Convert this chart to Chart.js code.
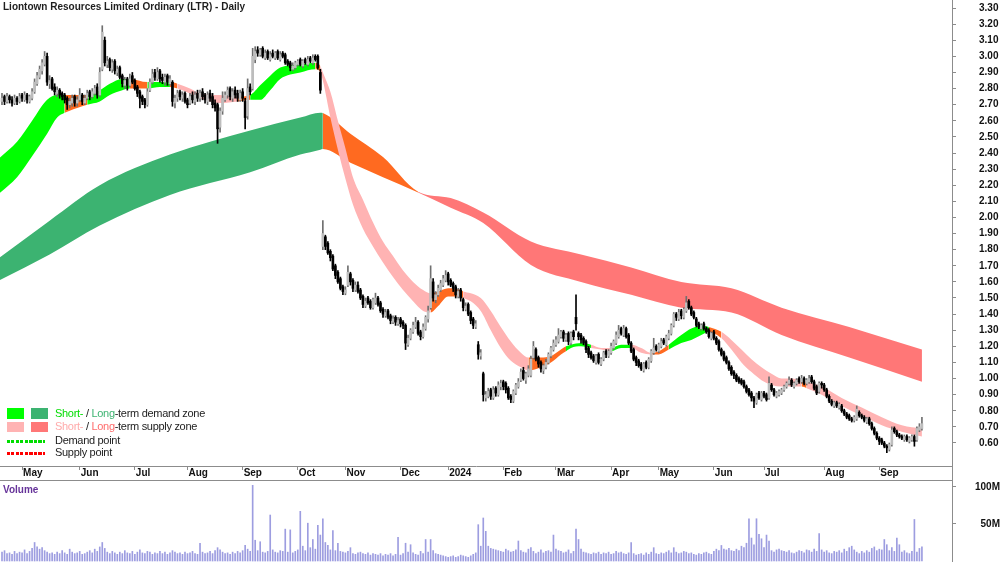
<!DOCTYPE html>
<html><head><meta charset="utf-8">
<script src="https://cdn.jsdelivr.net/npm/chart.js@4.4.1/dist/chart.umd.min.js"></script>
<style>
html,body{margin:0;padding:0;background:#fff;}
body{width:1000px;height:562px;overflow:hidden;position:relative;font-family:'Liberation Sans',Arial,Helvetica,sans-serif;}
canvas{position:absolute;left:0;}
.ov{position:absolute;white-space:nowrap;z-index:5;}
#title{left:3px;top:1px;font-size:10px;font-weight:bold;color:#1e1e1e;line-height:12px;}
.sq{position:absolute;width:17px;z-index:5;}
.lt{position:absolute;left:55px;font-size:11px;letter-spacing:-0.3px;color:#222;line-height:13px;z-index:5;white-space:nowrap;}
.dots{position:absolute;left:7px;width:38px;height:3px;z-index:5;}
#vol{left:3px;top:484px;font-size:10px;font-weight:bold;color:#663399;line-height:12px;}
.ln{position:absolute;background:#8c8c8c;z-index:6;}
</style>
</head><body>
<canvas id="pc" width="1000" height="480" style="top:0"></canvas>
<canvas id="vc" width="1000" height="82" style="top:480px"></canvas>
<div class="ln" style="left:952px;top:0;width:1px;height:562px"></div>
<div class="ln" style="left:0;top:480px;width:953px;height:1px"></div>
<div id="title" class="ov">Liontown Resources Limited Ordinary (LTR) - Daily</div>
<div class="sq" style="left:7px;top:408px;height:11px;background:#00ff00"></div>
<div class="sq" style="left:31px;top:408px;height:11px;background:#3cb371"></div>
<div class="sq" style="left:7px;top:422px;height:10px;background:#ffb3b3"></div>
<div class="sq" style="left:31px;top:422px;height:10px;background:#ff7777"></div>
<div class="dots" style="top:440px;background:repeating-linear-gradient(90deg,#00dd00 0 3px,transparent 3px 4.5px)"></div>
<div class="dots" style="top:452px;background:repeating-linear-gradient(90deg,#ff0000 0 3px,transparent 3px 4.5px)"></div>
<div class="lt" style="top:407px"><span style="color:#00dd00">Short-</span> / <span style="color:#3cb371">Long</span>-term demand zone</div>
<div class="lt" style="top:420px"><span style="color:#ffaaaa">Short-</span> / <span style="color:#ff6b6b">Long</span>-term supply zone</div>
<div class="lt" style="top:434px">Demand point</div>
<div class="lt" style="top:446px">Supply point</div>
<div id="vol" class="ov">Volume</div>
<script>
// ---- axis labels ----
const monthLabels = ['May','Jun','Jul','Aug','Sep','Oct','Nov','Dec','2024','Feb','Mar','Apr','May','Jun','Jul','Aug','Sep'];
const monthTickIdx = [8,31,53,74,96,118,137,159,178,200,221,243,262,284,304,328,350];
const priceTicks = [0.6,0.7,0.8,0.9,1.0,1.1,1.2,1.3,1.4,1.5,1.6,1.7,1.8,1.9,2.0,2.1,2.2,2.3,2.4,2.5,2.6,2.7,2.8,2.9,3.0,3.1,3.2,3.3];
const volumeTicks = [50,100];

// ---- daily candles (trading-day index 0..367) ----
const open = [
2.72,2.75,2.72,2.75,2.73,2.71,2.74,2.72,
2.76,2.73,2.76,2.72,2.74,2.78,2.83,
2.87,2.91,2.95,3.00,2.83,2.86,2.81,2.77,2.79,
2.77,2.76,2.74,2.70,2.71,2.75,2.71,2.73,2.76,2.71,2.74,2.78,
2.75,2.77,2.81,2.76,2.92,3.10,2.95,2.98,2.92,2.97,
2.90,2.93,2.88,2.82,2.86,2.82,2.88,2.85,2.81,2.78,
2.75,2.73,2.70,2.79,2.84,2.90,2.86,2.91,
2.87,2.84,2.88,2.83,2.84,2.71,2.74,2.78,2.74,2.77,2.73,
2.71,2.76,2.72,2.77,2.74,2.78,2.76,2.72,2.77,2.75,2.71,
2.70,2.56,2.66,2.73,2.76,2.80,2.74,2.79,2.77,
2.73,2.78,2.72,2.63,2.81,2.80,2.98,
3.04,3.01,3.05,2.99,3.03,2.98,3.02,2.99,3.03,2.98,3.02,3.01,2.97,2.96,
2.92,2.93,2.95,2.98,2.94,2.98,2.95,2.99,2.96,3.00,3.00,2.90,
1.82,1.88,1.84,1.79,1.76,1.70,1.66,1.62,1.57,1.53,
1.58,1.65,1.61,1.55,1.58,1.55,1.51,1.45,1.50,1.48,1.44,1.47,
1.50,1.47,1.43,1.39,1.42,1.39,1.35,1.38,1.34,1.37,
1.35,1.33,1.21,1.25,1.29,1.32,1.35,1.29,1.26,1.31,1.37,
1.44,1.60,1.49,1.52,1.55,1.58,1.61,1.65,
1.61,1.59,1.57,1.51,1.55,1.49,1.43,1.46,1.41,1.37,1.32,
1.21,1.14,1.03,0.88,0.89,0.93,0.88,0.94,0.90,0.95,0.98,
0.97,0.94,0.89,0.86,0.91,0.95,0.99,1.05,0.99,1.02,1.02,1.13,
1.18,1.13,1.10,1.05,1.07,1.10,1.14,1.18,1.21,
1.23,1.26,1.29,1.24,1.28,1.22,1.29,1.38,1.28,1.27,
1.25,1.23,1.19,1.16,1.14,1.10,1.15,1.09,1.12,1.17,
1.14,1.16,1.19,1.22,1.26,1.31,1.27,1.31,1.27,1.22,1.18,1.13,
1.11,1.09,1.05,1.10,1.07,1.11,1.16,1.20,
1.17,1.20,1.24,1.21,1.25,1.28,1.33,1.40,1.37,1.42,1.38,1.42,1.48,
1.44,1.41,1.37,1.34,1.31,1.34,1.31,1.30,1.25,1.29,
1.25,1.23,1.18,1.16,1.13,1.10,1.07,1.04,1.02,
1.00,0.99,0.98,0.95,0.93,0.91,0.88,0.85,0.91,0.87,
0.91,0.90,0.88,0.96,0.93,0.89,0.90,0.91,0.93,0.95,0.97,0.99,
0.95,0.97,1.00,0.98,1.00,0.97,0.98,1.01,0.98,0.95,0.92,
0.97,0.96,0.93,0.89,0.86,0.83,0.85,0.82,0.83,0.80,0.78,0.77,
0.75,0.74,0.75,0.79,0.77,0.76,0.73,0.75,0.72,0.69,
0.66,0.63,0.62,0.60,0.58,0.56,0.59,0.69,0.67,
0.65,0.64,0.62,0.64,0.61,0.62,0.64,0.62,0.68,0.69
];
const high = [
2.77,2.76,2.77,2.76,2.75,2.76,2.75,2.77,
2.77,2.78,2.77,2.76,2.80,2.86,2.90,
2.94,2.98,3.03,3.02,2.88,2.87,2.83,2.81,2.80,
2.78,2.77,2.75,2.74,2.76,2.76,2.75,2.80,2.77,2.76,2.79,2.79,
2.80,2.82,2.83,2.93,3.19,3.12,3.00,2.99,2.98,2.98,
2.94,2.94,2.89,2.87,2.87,2.89,2.90,2.86,2.82,2.79,
2.76,2.74,2.80,2.86,2.92,2.92,2.93,2.92,
2.89,2.89,2.89,2.88,2.85,2.76,2.79,2.79,2.78,2.78,2.74,
2.77,2.78,2.78,2.79,2.79,2.80,2.77,2.78,2.79,2.77,2.73,
2.71,2.68,2.78,2.78,2.81,2.81,2.80,2.81,2.79,
2.79,2.80,2.74,2.86,2.83,3.05,3.06,
3.06,3.05,3.06,3.04,3.04,3.03,3.04,3.03,3.04,3.03,3.03,3.02,2.98,2.97,
2.96,2.97,2.98,2.99,2.98,2.99,3.00,3.00,3.01,3.01,3.01,2.92,
1.98,1.89,1.85,1.80,1.77,1.71,1.67,1.63,1.58,1.57,
1.70,1.66,1.62,1.60,1.60,1.56,1.52,1.50,1.51,1.49,1.50,1.53,
1.51,1.48,1.44,1.43,1.43,1.40,1.39,1.39,1.38,1.38,
1.36,1.34,1.27,1.31,1.35,1.38,1.36,1.30,1.34,1.39,1.45,
1.70,1.62,1.54,1.58,1.61,1.64,1.67,1.66,
1.62,1.60,1.58,1.56,1.56,1.50,1.47,1.47,1.42,1.38,1.36,
1.23,1.18,1.04,0.92,0.94,0.94,0.95,0.95,0.98,0.99,0.99,
0.98,0.95,0.90,0.93,0.97,1.00,1.06,1.07,1.04,1.08,1.14,1.23,
1.19,1.14,1.11,1.09,1.12,1.16,1.20,1.24,1.26,
1.31,1.30,1.30,1.28,1.29,1.29,1.30,1.52,1.29,1.28,
1.26,1.24,1.20,1.17,1.15,1.15,1.16,1.13,1.17,1.18,
1.18,1.22,1.24,1.29,1.33,1.32,1.33,1.32,1.28,1.23,1.19,1.14,
1.12,1.10,1.10,1.11,1.13,1.18,1.25,1.21,
1.22,1.25,1.25,1.27,1.30,1.34,1.41,1.41,1.43,1.43,1.44,1.51,1.49,
1.45,1.42,1.38,1.35,1.34,1.35,1.32,1.31,1.29,1.30,
1.26,1.24,1.19,1.17,1.14,1.11,1.08,1.05,1.03,
1.01,1.00,0.99,0.96,0.94,0.92,0.89,0.91,0.92,0.92,
0.92,0.91,1.01,0.97,0.94,0.92,0.93,0.94,0.96,0.98,1.01,1.00,
0.98,1.00,1.01,1.02,1.01,1.00,1.02,1.02,0.99,0.96,0.98,
0.98,0.97,0.94,0.90,0.87,0.86,0.86,0.85,0.84,0.81,0.79,0.78,
0.76,0.77,0.83,0.80,0.78,0.77,0.76,0.76,0.73,0.70,
0.67,0.64,0.63,0.61,0.59,0.60,0.70,0.70,0.68,
0.66,0.65,0.65,0.65,0.64,0.65,0.65,0.70,0.72,0.76
];
const low = [
2.70,2.70,2.71,2.71,2.69,2.70,2.70,2.71,
2.72,2.72,2.71,2.71,2.73,2.77,2.82,
2.86,2.89,2.94,2.82,2.80,2.79,2.76,2.75,2.74,
2.73,2.71,2.67,2.68,2.69,2.69,2.69,2.72,2.70,2.70,2.73,2.73,
2.74,2.76,2.74,2.75,2.91,2.94,2.93,2.91,2.90,2.89,
2.88,2.86,2.81,2.80,2.79,2.81,2.83,2.79,2.75,2.68,
2.70,2.68,2.69,2.78,2.83,2.85,2.85,2.84,
2.83,2.82,2.82,2.82,2.69,2.68,2.72,2.73,2.72,2.71,2.68,
2.70,2.71,2.70,2.72,2.72,2.73,2.71,2.70,2.72,2.68,2.66,
2.46,2.53,2.64,2.72,2.74,2.73,2.72,2.74,2.72,
2.72,2.72,2.55,2.61,2.76,2.79,2.96,
3.00,3.00,2.99,2.98,2.98,2.97,2.99,2.98,2.98,2.97,2.99,2.95,2.94,2.91,
2.91,2.92,2.94,2.94,2.93,2.95,2.94,2.96,2.95,2.97,2.92,2.77,
1.80,1.80,1.77,1.73,1.67,1.62,1.59,1.55,1.52,1.52,
1.57,1.58,1.54,1.54,1.53,1.49,1.44,1.44,1.46,1.43,1.43,1.46,
1.45,1.41,1.38,1.38,1.37,1.34,1.34,1.33,1.33,1.32,
1.31,1.18,1.20,1.24,1.28,1.31,1.27,1.24,1.25,1.30,1.35,
1.43,1.48,1.47,1.51,1.54,1.57,1.60,1.58,
1.57,1.54,1.50,1.50,1.48,1.42,1.42,1.39,1.34,1.31,1.31,
1.12,1.12,0.86,0.86,0.88,0.87,0.87,0.89,0.89,0.93,0.93,
0.91,0.87,0.85,0.85,0.90,0.94,0.98,0.99,0.97,1.01,1.01,1.12,
1.11,1.07,1.04,1.03,1.06,1.09,1.13,1.17,1.20,
1.22,1.25,1.23,1.23,1.21,1.21,1.24,1.30,1.24,1.22,
1.21,1.16,1.13,1.12,1.10,1.09,1.09,1.08,1.11,1.13,
1.13,1.15,1.18,1.21,1.25,1.27,1.26,1.25,1.21,1.16,1.11,1.08,
1.07,1.05,1.04,1.06,1.06,1.10,1.15,1.17,
1.16,1.19,1.21,1.20,1.24,1.27,1.32,1.36,1.36,1.37,1.37,1.41,1.43,
1.39,1.37,1.32,1.31,1.30,1.30,1.28,1.25,1.24,1.24,
1.21,1.17,1.14,1.11,1.09,1.05,1.02,1.00,0.98,
0.97,0.96,0.94,0.91,0.89,0.86,0.82,0.84,0.87,0.86,
0.88,0.86,0.87,0.92,0.89,0.88,0.89,0.90,0.92,0.94,0.96,0.95,
0.94,0.96,0.97,0.97,0.96,0.96,0.97,0.97,0.93,0.90,0.91,
0.94,0.92,0.88,0.85,0.83,0.82,0.82,0.81,0.79,0.77,0.75,0.74,
0.73,0.73,0.74,0.76,0.75,0.73,0.72,0.71,0.68,0.65,
0.62,0.59,0.59,0.57,0.54,0.55,0.58,0.66,0.64,
0.63,0.62,0.61,0.61,0.60,0.61,0.58,0.61,0.67,0.68
];
const close = [
2.74,2.72,2.75,2.73,2.71,2.74,2.72,2.75,
2.74,2.76,2.73,2.75,2.78,2.84,2.88,
2.92,2.96,3.00,2.84,2.85,2.80,2.78,2.79,2.76,
2.75,2.73,2.70,2.72,2.74,2.71,2.73,2.76,2.72,2.74,2.77,2.75,
2.78,2.80,2.76,2.90,3.15,2.96,2.97,2.93,2.96,2.91,
2.92,2.87,2.83,2.85,2.82,2.86,2.84,2.80,2.77,2.74,
2.72,2.70,2.78,2.84,2.89,2.87,2.90,2.86,
2.85,2.87,2.84,2.86,2.72,2.74,2.77,2.75,2.76,2.72,2.70,
2.75,2.73,2.76,2.74,2.77,2.75,2.73,2.76,2.74,2.70,2.68,
2.55,2.66,2.74,2.76,2.79,2.75,2.78,2.76,2.74,
2.77,2.74,2.62,2.80,2.78,3.00,3.03,
3.02,3.04,3.00,3.02,2.99,3.01,3.00,3.02,2.99,3.01,3.00,2.96,2.95,2.93,
2.94,2.96,2.97,2.95,2.97,2.96,2.98,2.97,2.99,2.98,2.93,2.79,
1.90,1.82,1.78,1.75,1.68,1.64,1.60,1.56,1.54,1.55,
1.66,1.60,1.56,1.58,1.54,1.50,1.46,1.48,1.47,1.44,1.49,1.50,
1.46,1.42,1.40,1.41,1.38,1.36,1.37,1.35,1.36,1.34,
1.33,1.22,1.25,1.30,1.33,1.35,1.28,1.26,1.32,1.38,1.42,
1.62,1.50,1.52,1.56,1.59,1.62,1.64,1.60,
1.58,1.56,1.52,1.54,1.50,1.44,1.45,1.40,1.36,1.33,1.34,
1.15,1.16,0.90,0.90,0.92,0.89,0.93,0.91,0.96,0.97,0.95,
0.93,0.88,0.87,0.92,0.96,0.98,1.04,1.00,1.03,1.06,1.12,1.20,
1.12,1.09,1.06,1.08,1.10,1.15,1.19,1.22,1.24,
1.27,1.29,1.25,1.27,1.23,1.28,1.26,1.34,1.26,1.24,
1.22,1.18,1.15,1.13,1.11,1.14,1.10,1.12,1.16,1.15,
1.17,1.20,1.23,1.27,1.30,1.28,1.31,1.26,1.22,1.17,1.12,1.10,
1.08,1.06,1.09,1.07,1.12,1.17,1.19,1.18,
1.21,1.23,1.22,1.26,1.28,1.33,1.40,1.38,1.41,1.39,1.43,1.47,1.44,
1.40,1.38,1.33,1.32,1.33,1.31,1.29,1.26,1.28,1.25,
1.22,1.18,1.15,1.12,1.10,1.06,1.03,1.02,0.99,
0.98,0.97,0.95,0.92,0.90,0.88,0.86,0.90,0.88,0.91,
0.89,0.87,0.97,0.93,0.90,0.91,0.92,0.93,0.95,0.97,0.99,0.96,
0.97,0.99,0.98,1.00,0.97,0.99,1.00,0.98,0.94,0.91,0.97,
0.96,0.93,0.89,0.86,0.84,0.85,0.83,0.84,0.80,0.78,0.76,0.75,
0.74,0.76,0.81,0.77,0.76,0.74,0.75,0.72,0.69,0.66,
0.63,0.61,0.60,0.58,0.57,0.59,0.68,0.67,0.65,
0.64,0.63,0.64,0.62,0.63,0.64,0.61,0.69,0.70,0.72
];
// volume in millions of shares
const volume = [
12,14,10,11,9,13,10,12,
11,15,10,13,17,25,19,
16,18,14,12,10,11,9,12,10,
14,11,9,16,12,10,11,13,9,10,12,14,
11,16,13,19,25,17,12,10,13,11,
9,12,10,14,11,10,13,9,12,15,
11,10,13,12,9,11,10,13,
10,12,9,11,14,12,10,11,9,12,10,
11,13,10,9,24,12,10,11,13,10,14,
18,15,12,10,11,9,12,10,13,
11,14,21,16,13,102,28,
14,26,12,11,13,62,15,12,11,14,13,43,12,42,
11,13,15,67,20,14,51,18,29,16,48,35,
57,25,21,15,41,14,24,13,12,11,
13,18,10,9,11,12,10,9,11,8,10,9,
8,10,7,9,8,10,7,9,32,8,
10,24,12,22,11,9,8,13,10,29,12,
29,14,10,9,8,7,6,5,
6,7,5,6,8,7,6,5,7,9,11,
49,20,58,40,20,17,16,15,14,13,12,
16,14,12,13,15,27,14,12,11,16,18,13,
10,12,15,11,13,14,12,35,16,
14,13,11,12,15,10,13,43,29,16,
12,11,10,9,11,10,12,9,11,10,
12,9,10,13,11,12,10,9,11,25,10,8,
9,10,8,11,9,12,18,10,
9,11,10,12,14,11,18,12,10,11,13,12,10,
11,9,8,10,9,11,12,10,9,13,
16,14,21,16,15,17,14,13,16,
14,20,18,24,57,31,22,57,36,30,
18,35,27,14,12,15,16,14,13,12,14,11,
10,12,14,13,11,15,14,12,16,13,37,
15,12,14,11,10,13,12,14,11,16,13,18,
20,15,12,10,13,11,14,12,17,19,
14,16,15,29,22,14,18,13,31,
22,12,14,11,10,13,56,12,17,19
];

// ---- short-term zone band (sparse points on trading-day index) ----
const stIdx = [-1,6,12,18,22,25,30,34,39,43,48,51,58,63,67,70,75,79,87,94,99,103,107,111,119,125,127,128,131,134,137,140,144,148,152,156,160,164,168,171,174,178,183,184,187,191,195,199,203,207,210,215,219,223,225,227,231,235,239,243,247,251,255,259,262,266,271,275,279,282,287,291,295,299,303,307,311,315,319,321,327,335,343,351,359,367];
const stHi = [2.37,2.47,2.60,2.73,2.76,2.76,2.76,2.76,2.79,2.83,2.86,2.86,2.84,2.84,2.84,2.83,2.80,2.77,2.76,2.75,2.76,2.82,2.88,2.93,2.95,2.96,2.94,2.90,2.78,2.60,2.43,2.25,2.11,1.97,1.85,1.76,1.67,1.60,1.55,1.53,1.54,1.56,1.55,1.54,1.53,1.50,1.42,1.32,1.23,1.16,1.13,1.13,1.14,1.18,1.20,1.21,1.22,1.21,1.19,1.19,1.21,1.21,1.19,1.16,1.17,1.21,1.27,1.31,1.33,1.32,1.29,1.24,1.18,1.12,1.07,1.03,1.00,1.00,0.99,0.98,0.95,0.88,0.82,0.76,0.71,0.69];
const stLo = [2.15,2.25,2.38,2.52,2.62,2.65,2.68,2.70,2.72,2.76,2.79,2.80,2.80,2.81,2.81,2.80,2.77,2.74,2.71,2.72,2.73,2.73,2.79,2.86,2.90,2.92,2.90,2.85,2.62,2.42,2.24,2.08,1.93,1.82,1.72,1.63,1.55,1.48,1.42,1.41,1.45,1.51,1.51,1.50,1.48,1.42,1.30,1.19,1.11,1.07,1.05,1.07,1.10,1.15,1.17,1.19,1.20,1.19,1.18,1.17,1.19,1.19,1.16,1.15,1.15,1.18,1.22,1.24,1.27,1.29,1.25,1.18,1.10,1.04,0.99,0.96,0.95,0.95,0.95,0.94,0.90,0.83,0.77,0.71,0.67,0.64];
const stZone = ['sd','sd','sd','sd','sd','tr','tr','sd','sd','sd',
'sd','tr','sd','sd','tr','ss','ss','ss','ss','tr',
'sd','sd','sd','sd','sd','tr','ss','ss','ss','ss',
'ss','ss','ss','ss','ss','ss','ss','ss','ss','tr',
'tr','tr','tr','ss','ss','ss','ss','ss','ss','ss',
'tr','tr','tr','tr','sd','sd','sd','ss','ss','sd',
'sd','ss','ss','tr','tr','sd','sd','sd','sd','tr',
'ss','ss','ss','ss','ss','ss','ss','ss','tr','ss',
'ss','ss','ss','ss','ss','ss'];

// ---- long-term zone band ----
const ltIdx = [-1,19,39,67,99,119,127,128,139,152,166,179,192,211,231,251,271,291,311,338,367];
const ltHi = [1.75,1.98,2.20,2.39,2.54,2.62,2.65,2.648,2.52,2.375,2.16,2.12,2.03,1.85,1.77,1.69,1.60,1.56,1.44,1.32,1.18];
const ltLo = [1.61,1.77,1.95,2.14,2.28,2.39,2.42,2.425,2.34,2.25,2.155,2.06,1.965,1.705,1.60,1.52,1.44,1.41,1.27,1.13,0.98];
const ltZone = ['ld','ld','ld','ld','ld','ld','ld','tr','tr','tr','ls','ls','ls','ls','ls','ls','ls','ls','ls','ls','ls'];

const N = close.length;
[open,high,low,volume].forEach((a,k)=>{ if(a.length!==N) throw new Error('length mismatch '+k+': '+a.length+' vs '+N); });
if (stHi.length!==stIdx.length||stLo.length!==stIdx.length||stZone.length!==stIdx.length) throw new Error('st band length');
if (ltHi.length!==ltIdx.length||ltLo.length!==ltIdx.length||ltZone.length!==ltIdx.length) throw new Error('lt band length');

const FONT = "'Liberation Sans', Arial, Helvetica, sans-serif";
const zoneColor = {sd:'#00ff00', ld:'#3cb371', tr:'#ff6a20', ss:'#ffb3b3', ls:'#ff7777'};
const dayIdx = close.map((_, i) => i);
const isUp = i => close[i] >= open[i];
const pts = (xs, ys) => xs.map((x, i) => ({x: x, y: ys[i]}));
const XMIN = -0.8, XMAX = 379;
const AXIS = '#8c8c8c';

function band(xs, hi, lo, zone, order) {
  return [
    {type:'line', data: pts(xs, hi), borderColor:'rgba(0,0,0,0)', borderWidth:0, pointRadius:0,
     fill:false, cubicInterpolationMode:'monotone', order: order},
    {type:'line', data: pts(xs, lo), borderColor:'rgba(0,0,0,0)', borderWidth:0, pointRadius:0,
     fill:'-1', backgroundColor: zoneColor[zone[0]], cubicInterpolationMode:'monotone', order: order,
     segment: { backgroundColor: c => zoneColor[zone[c.p0DataIndex]] }}
  ];
}

new Chart(document.getElementById('pc'), {
  type: 'bar',
  data: { datasets: [
    ...band(ltIdx, ltHi, ltLo, ltZone, 10),
    ...band(stIdx, stHi, stLo, stZone, 5),
    {type:'bar', data: dayIdx.map(i => ({x:i, y:[low[i], high[i]]})),
     backgroundColor: c => isUp(c.dataIndex) ? '#6f6f6f' : '#000000',
     barThickness:1, grouped:false, order:1},
    {type:'bar', data: dayIdx.map(i => ({x:i, y:[open[i], close[i]]})),
     backgroundColor: c => isUp(c.dataIndex) ? '#bdbdbd' : '#000000',
     borderWidth:0, barThickness:2, minBarLength:1, grouped:false, order:0}
  ]},
  options: {
    responsive:false, animation:false, devicePixelRatio:1, events:[],
    layout:{padding:0, autoPadding:false},
    plugins:{legend:{display:false}, tooltip:{enabled:false}, title:{display:false}},
    scales:{
      x:{type:'linear', min:XMIN, max:XMAX, offset:false, position:'bottom',
        afterBuildTicks: s => { s.ticks = monthTickIdx.map(v => ({value:v})); },
        afterFit: s => { s.height = 14; s.paddingLeft = 0; s.paddingRight = 0; },
        grid:{drawOnChartArea:false, drawTicks:true, tickLength:4, color:AXIS, offset:false},
        border:{display:true, color:AXIS},
        ticks:{align:'start', padding:-3, labelOffset:1, autoSkip:false, maxRotation:0, color:'#111',
          font:{family:FONT, size:10, weight:'bold'}, callback:(v, i) => monthLabels[i]}},
      y:{type:'linear', position:'right', min:0.4572, max:3.3497,
        afterBuildTicks: s => { s.ticks = priceTicks.map(v => ({value:v})); },
        afterFit: s => { s.width = 48; s.paddingTop = 0; s.paddingBottom = 0; },
        grid:{drawOnChartArea:false, tickLength:4, color:AXIS},
        border:{display:true, color:AXIS},
        ticks:{padding:23, autoSkip:false, color:'#111', font:{family:FONT, size:10, weight:'bold'},
          callback: v => Number(v).toFixed(2)}}
    }
  }
});

new Chart(document.getElementById('vc'), {
  type: 'bar',
  data: { datasets: [
    {data: dayIdx.map(i => ({x:i, y:volume[i]})), backgroundColor:'#9d9de0', barThickness:1, grouped:false}
  ]},
  options: {
    responsive:false, animation:false, devicePixelRatio:1, events:[],
    layout:{padding:0, autoPadding:false},
    plugins:{legend:{display:false}, tooltip:{enabled:false}},
    scales:{
      x:{type:'linear', min:XMIN, max:XMAX, offset:false, display:false},
      y:{type:'linear', position:'right', min:-1.3, max:109.2,
        afterBuildTicks: s => { s.ticks = volumeTicks.map(v => ({value:v})); },
        afterFit: s => { s.width = 48; s.paddingTop = 0; s.paddingBottom = 0; },
        grid:{drawOnChartArea:false, tickLength:4, color:AXIS},
        border:{display:true, color:AXIS},
        ticks:{padding:7, crossAlign:'far', autoSkip:false, color:'#111', font:{family:FONT, size:10, weight:'bold'},
          callback: v => v + 'M'}}
    }
  }
});
</script>
</body></html>
